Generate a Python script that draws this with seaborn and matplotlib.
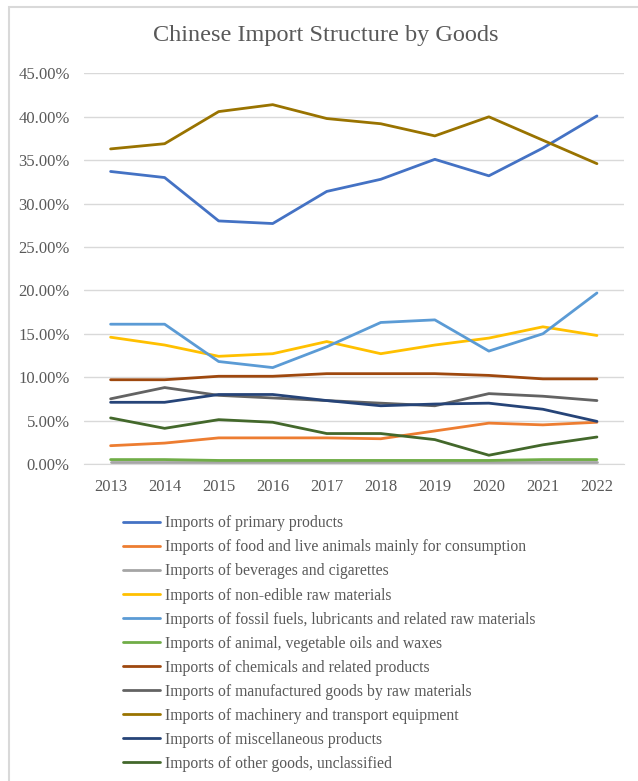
import numpy as np
import pandas as pd
import seaborn as sns
import matplotlib.pyplot as plt
from matplotlib.patches import Rectangle
from matplotlib.ticker import PercentFormatter

years = [2013, 2014, 2015, 2016, 2017, 2018, 2019, 2020, 2021, 2022]

categories = [
    'Imports of primary products',
    'Imports of food and live animals mainly for consumption',
    'Imports of beverages and cigarettes',
    'Imports of non-edible raw materials',
    'Imports of fossil fuels, lubricants and related raw materials',
    'Imports of animal, vegetable oils and waxes',
    'Imports of chemicals and related products',
    'Imports of manufactured goods by raw materials',
    'Imports of machinery and transport equipment',
    'Imports of miscellaneous products',
    'Imports of other goods, unclassified',
]

primary = [33.7, 33.0, 28.0, 27.7, 31.4, 32.8, 35.1, 33.2, 36.4, 40.1]
food = [2.1, 2.4, 3.0, 3.0, 3.0, 2.9, 3.8, 4.7, 4.5, 4.8]
beverages = [0.2, 0.2, 0.2, 0.2, 0.2, 0.2, 0.2, 0.2, 0.2, 0.2]
non_edible = [14.6, 13.7, 12.4, 12.7, 14.1, 12.7, 13.7, 14.5, 15.8, 14.8]
fossil = [16.1, 16.1, 11.8, 11.1, 13.5, 16.3, 16.6, 13.0, 15.0, 19.7]
oils = [0.5, 0.5, 0.4, 0.4, 0.4, 0.4, 0.4, 0.4, 0.5, 0.5]
chemicals = [9.7, 9.7, 10.1, 10.1, 10.4, 10.4, 10.4, 10.2, 9.8, 9.8]
manufactured = [7.5, 8.8, 7.9, 7.6, 7.3, 7.0, 6.7, 8.1, 7.8, 7.3]
machinery = [36.3, 36.9, 40.6, 41.4, 39.8, 39.2, 37.8, 40.0, 37.3, 34.6]
misc = [7.1, 7.1, 8.0, 8.0, 7.3, 6.7, 6.9, 7.0, 6.3, 4.9]
other = [5.3, 4.1, 5.1, 4.8, 3.5, 3.5, 2.8, 1.0, 2.2, 3.1]

series = [primary, food, beverages, non_edible, fossil, oils,
          chemicals, manufactured, machinery, misc, other]

colors = ['#4472C4', '#ED7D31', '#A5A5A5', '#FFC000', '#5B9BD5', '#70AD47',
          '#9E480E', '#636363', '#997300', '#264478', '#43682B']

rows = []
for name, vals in zip(categories, series):
    for y, v in zip(years, vals):
        rows.append({'year': y, 'share': v, 'goods': name})
df = pd.DataFrame(rows)

sns.set_style('white')
plt.rcParams['font.family'] = ['Liberation Serif', 'DejaVu Serif']
text_gray = '#595959'

fig = plt.figure(figsize=(6.38, 7.81), dpi=100)
ax = fig.add_axes([0.131, 0.406, 0.847, 0.500])

sns.lineplot(data=df, x='year', y='share', hue='goods', hue_order=categories,
             palette=colors, linewidth=2.0, ax=ax, legend=False)

ax.set_xlim(2012.5, 2022.5)
ax.set_ylim(0, 45)
ax.set_yticks(np.arange(0, 46, 5))
ax.set_xticks(years)
ax.yaxis.set_major_formatter(PercentFormatter(decimals=2))
ax.grid(axis='y', color='#d9d9d9', linewidth=1)
ax.set_axisbelow(True)
for s in ['top', 'right', 'left']:
    ax.spines[s].set_visible(False)
ax.spines['bottom'].set_color('#d9d9d9')
ax.tick_params(axis='both', length=0, labelsize=12, labelcolor=text_gray)
ax.tick_params(axis='y', pad=10)
ax.tick_params(axis='x', pad=11)
ax.set_xlabel('')
ax.set_ylabel('')

fig.text(0.51, 0.954, 'Chinese Import Structure by Goods', ha='center', va='center',
         fontsize=17.5, color=text_gray)

handles = [plt.Line2D([], [], color=c, linewidth=2.0) for c in colors]
leg = fig.legend(handles, categories, loc='upper left', bbox_to_anchor=(0.183, 0.348),
                 frameon=False, fontsize=11.3, handlelength=2.35, handletextpad=0.3,
                 labelspacing=0.51, borderaxespad=0)
for t in leg.get_texts():
    t.set_color(text_gray)

# chart border: only the top and left edges show in the cropped original
fig.patches.append(Rectangle((0.0145, -0.05), 1.2, 1.041, transform=fig.transFigure,
                             fill=False, edgecolor='#d9d9d9', linewidth=1.5))

fig.savefig('out.png', dpi=100)
